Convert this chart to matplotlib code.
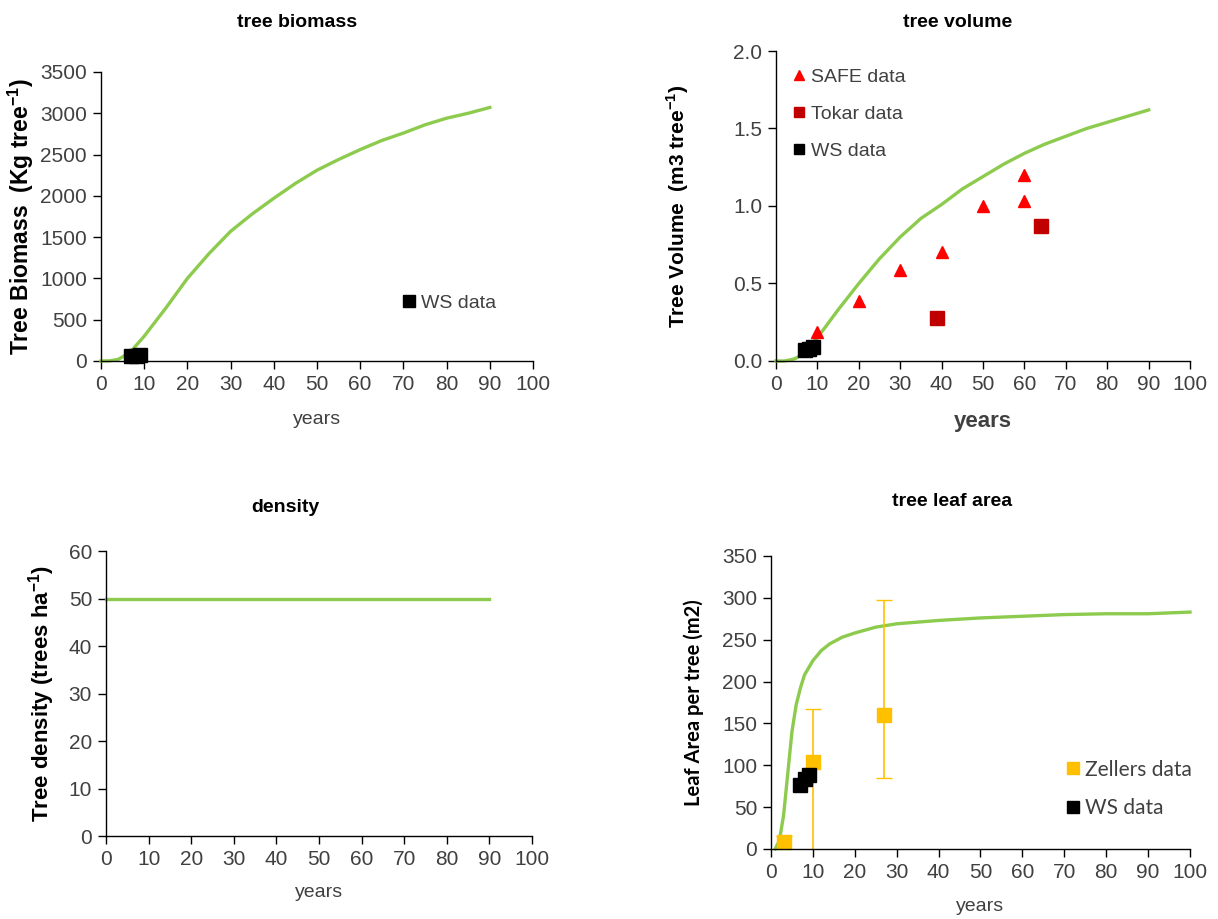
import matplotlib
matplotlib.use("Agg")
import matplotlib.pyplot as plt
import numpy as np

plt.rcParams['font.family'] = ['Liberation Sans', 'DejaVu Sans']
plt.rcParams['mathtext.fontset'] = 'custom'
plt.rcParams['mathtext.rm'] = 'Liberation Sans'
plt.rcParams['mathtext.bf'] = 'Liberation Sans:bold'

GREEN = '#8DCB4E'
TICKC = '#404040'

# tree biomass (kg/tree)
bio_years = [0, 2, 4, 5, 7, 10, 15, 20, 25, 30, 35, 40, 45, 50, 55, 60, 65, 70, 75, 80, 85, 90]
bio_vals = [0, 2, 20, 50, 120, 300, 640, 1000, 1300, 1570, 1780, 1970, 2150, 2310, 2440, 2560, 2670, 2760, 2860, 2940, 3000, 3070]
ws_bio_years = [7, 8, 9]
ws_bio_vals = [55, 62, 70]

# tree volume (m3/tree)
vol_years = [0, 2, 4, 5, 7, 10, 15, 20, 25, 30, 35, 40, 45, 50, 55, 60, 65, 70, 75, 80, 85, 90]
vol_vals = [0, 0, 0.01, 0.02, 0.06, 0.15, 0.33, 0.5, 0.66, 0.8, 0.92, 1.01, 1.11, 1.19, 1.27, 1.34, 1.40, 1.45, 1.50, 1.54, 1.58, 1.62]
safe_years = [10, 20, 30, 40, 50, 60, 60]
safe_vals = [0.19, 0.39, 0.59, 0.70, 1.00, 1.20, 1.03]
tokar_years = [39, 64]
tokar_vals = [0.28, 0.87]
ws_vol_years = [7, 8, 9]
ws_vol_vals = [0.07, 0.08, 0.09]

# density (trees/ha)
dens_years = [0, 90]
dens_vals = [50, 50]

# leaf area (m2/tree)
la_years = [1, 2, 3, 4, 5, 6, 7, 8, 10, 12, 14, 17, 20, 25, 30, 35, 40, 50, 60, 70, 80, 90, 100]
la_vals = [0, 10, 40, 90, 140, 172, 192, 208, 225, 237, 245, 253, 258, 265, 269, 271, 273, 276, 278, 280, 281, 281, 283]
zel_years = [3, 10, 27]
zel_vals = [8, 104, 160]
zel_err_lo = [8, 110, 75]
zel_err_hi = [7, 63, 137]
ws_la_years = [7, 8, 9]
ws_la_vals = [76, 83, 88]

fig = plt.figure(figsize=(12.18, 9.19), dpi=100)


def style(ax, ymax, ystep, fmt='{:.0f}'):
    for s in ['top', 'right']:
        ax.spines[s].set_visible(False)
    for s in ['left', 'bottom']:
        ax.spines[s].set_color('black')
        ax.spines[s].set_linewidth(1.0)
    ax.set_xlim(0, 100)
    ax.set_ylim(0, ymax)
    ax.set_xticks(np.arange(0, 101, 10))
    yt = np.arange(0, ymax + ystep / 2, ystep)
    ax.set_yticks(yt)
    ax.set_yticklabels([fmt.format(v) for v in yt])
    ax.tick_params(direction='out', length=6, width=1, labelsize=15, colors='black',
                   labelcolor=TICKC, pad=4)


ax1 = fig.add_axes([0.0829, 0.6072, 0.3547, 0.3145])
style(ax1, 3500, 500)
ax1.plot(bio_years, bio_vals, color=GREEN, lw=2.4, clip_on=False)
ax1.plot(ws_bio_years, ws_bio_vals, 's', color='black', ms=10, label='WS data', clip_on=False)
ax1.set_ylabel(r'Tree Biomass  (Kg tree$^{\mathbf{-1}}$)', fontsize=16.5, fontweight='bold')
ax1.yaxis.set_label_coords(-0.15, 0.5)
ax1.set_xlabel('years', fontsize=14, color=TICKC)
ax1.xaxis.set_label_coords(0.5, -0.172)
ax1.legend(loc='center left', bbox_to_anchor=(0.66, 0.2), frameon=False, fontsize=14,
           handlelength=0.6, handletextpad=0.3, markerscale=0.8, labelcolor=TICKC)
fig.text(0.244, 0.976, 'tree biomass', ha='center', va='center', fontsize=14, fontweight='bold')

ax2 = fig.add_axes([0.6371, 0.6072, 0.340, 0.3373])
style(ax2, 2.0, 0.5, '{:.1f}')
ax2.plot(vol_years, vol_vals, color=GREEN, lw=2.4, clip_on=False)
ax2.plot(safe_years, safe_vals, '^', color='#FF0000', ms=9, label='SAFE data')
ax2.plot(tokar_years, tokar_vals, 's', color='#C00000', ms=10, label='Tokar data')
ax2.plot(ws_vol_years, ws_vol_vals, 's', color='black', ms=10, label='WS data')
ax2.set_ylabel(r'Tree Volume  (m3 tree$^{\mathbf{-1}}$)', fontsize=15, fontweight='bold')
ax2.yaxis.set_label_coords(-0.205, 0.5)
ax2.set_xlabel('years', fontsize=16, fontweight='bold', color=TICKC)
ax2.xaxis.set_label_coords(0.5, -0.161)
ax2.legend(loc='upper left', bbox_to_anchor=(0.0, 1.0), frameon=False, fontsize=14,
           handlelength=0.6, handletextpad=0.3, markerscale=0.75, labelspacing=1.0,
           labelcolor=TICKC)
fig.text(0.786, 0.976, 'tree volume', ha='center', va='center', fontsize=14, fontweight='bold')

ax3 = fig.add_axes([0.0870, 0.0903, 0.3498, 0.3101])
style(ax3, 60, 10)
ax3.plot(dens_years, dens_vals, color=GREEN, lw=2.4, clip_on=False)
ax3.set_ylabel(r'Tree density (trees ha$^{\mathbf{-1}}$)', fontsize=16, fontweight='bold')
ax3.yaxis.set_label_coords(-0.115, 0.5)
ax3.set_xlabel('years', fontsize=14, color=TICKC)
ax3.xaxis.set_label_coords(0.5, -0.168)
fig.text(0.234, 0.448, 'density', ha='center', va='center', fontsize=14, fontweight='bold')

ax4 = fig.add_axes([0.633, 0.0762, 0.344, 0.3188])
style(ax4, 350, 50)
ax4.plot(la_years, la_vals, color=GREEN, lw=2.4, clip_on=False)
ax4.errorbar(zel_years, zel_vals, yerr=[zel_err_lo, zel_err_hi], fmt='none',
             ecolor='#FFC000', elinewidth=1.2, capsize=6)
ax4.plot(zel_years, zel_vals, 's', color='#FFC000', ms=10, label='Zellers data', clip_on=False)
ax4.plot(ws_la_years, ws_la_vals, 's', color='black', ms=10, label='WS data')
ax4.set_ylabel('Leaf Area per tree (m2)', fontsize=14.5, fontweight='bold', family=['Lato', 'DejaVu Sans'])
ax4.yaxis.set_label_coords(-0.16, 0.5)
ax4.set_xlabel('years', fontsize=14, color=TICKC)
ax4.xaxis.set_label_coords(0.5, -0.167)
ax4.legend(loc='center left', bbox_to_anchor=(0.66, 0.205), frameon=False,
           prop={'family': ['Lato', 'DejaVu Sans'], 'size': 15}, handlelength=0.6,
           handletextpad=0.3, markerscale=0.8, labelspacing=0.9, labelcolor=TICKC)
fig.text(0.782, 0.454, 'tree leaf area', ha='center', va='center', fontsize=14, fontweight='bold')

fig.savefig('out.png', dpi=100)
